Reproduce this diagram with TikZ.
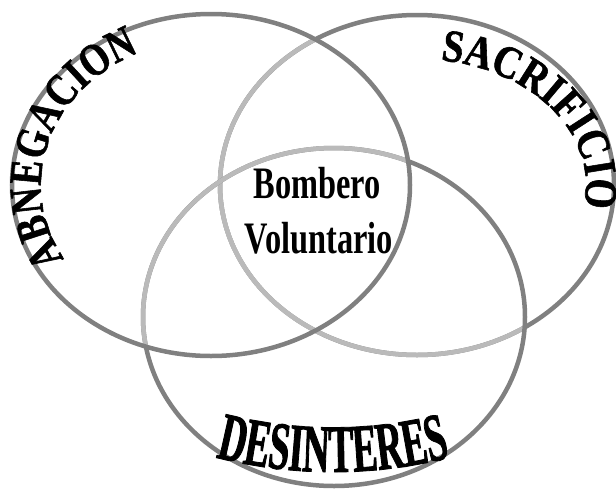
\documentclass[tikz,border=0pt]{standalone}
\usepackage{fontspec}
\setmainfont{Liberation Serif}
\newfontfamily\arcfontA[FakeStretch=0.80,FakeBold=1.2]{Liberation Serif}
\newfontfamily\arcfontC[FakeStretch=0.84,FakeBold=1.2]{Liberation Serif}
\newfontfamily\arcfontB[FakeStretch=0.55,FakeBold=1.2]{Liberation Serif}
\newfontfamily\midfont[FakeStretch=0.72]{Liberation Serif}
\usetikzlibrary{decorations.text,calc}
\definecolor{ringgray}{HTML}{808080}
\definecolor{ringlight}{HTML}{BABABA}
\begin{document}
\begin{tikzpicture}[x=1pt,y=1pt,
  ring/.style={draw=ringgray,line width=4.5pt},
  lightring/.style={draw=ringlight,line width=4.5pt},
  midtext/.style={font=\midfont\bfseries\fontsize{45}{45}\selectfont,inner sep=0pt,anchor=base}]
\useasboundingbox (0,0) rectangle (616,-488);
\coordinate (cl) at (211,-185);
\coordinate (cr) at (417,-185);
\coordinate (cb) at (334,-317);
\coordinate (cd) at (333,7);
% right circle (lowest layer)
\draw[ring] (cr) ellipse [x radius=197,y radius=170];
\begin{scope}
  \clip (cl) ellipse [x radius=199,y radius=171];
  \draw[lightring] (cr) ellipse [x radius=197,y radius=170];
\end{scope}
\begin{scope}
  \clip (cb) ellipse [x radius=191,y radius=169];
  \draw[lightring] (cr) ellipse [x radius=197,y radius=170];
\end{scope}
% bottom circle (middle layer)
\draw[ring] (cb) ellipse [x radius=191,y radius=169];
\begin{scope}
  \clip (cl) ellipse [x radius=199,y radius=171];
  \draw[lightring] (cb) ellipse [x radius=191,y radius=169];
\end{scope}
% left circle (top layer)
\draw[ring] (cl) ellipse [x radius=199,y radius=171];
\path[decorate,decoration={text along path,text align=center,
  text={|\arcfontA\bfseries\fontsize{46}{46}\selectfont|ABNEGACION}}]
  ($(cl)+(218:170 and 146)$) arc[start angle=218,end angle=108,x radius=170,y radius=146];
\path[decorate,decoration={text along path,text align=center,
  text={|\arcfontC\bfseries\fontsize{46}{46}\selectfont|SACRIFICIO}}]
  ($(cr)+(88:169 and 126)$) arc[start angle=88,end angle=-18,x radius=169,y radius=126];
\path[decorate,decoration={text along path,text align=center,
  text={|\arcfontB\bfseries\fontsize{68}{68}\selectfont|DESINTERES}}]
  ($(cd)+(250:479)$) arc[start angle=250,end angle=290,radius=479];
\node[midtext] (bombero) at (317,-198) {Bombero};
\node[midtext] (voluntario) at (319,-253) {Voluntario};
\end{tikzpicture}
\end{document}
